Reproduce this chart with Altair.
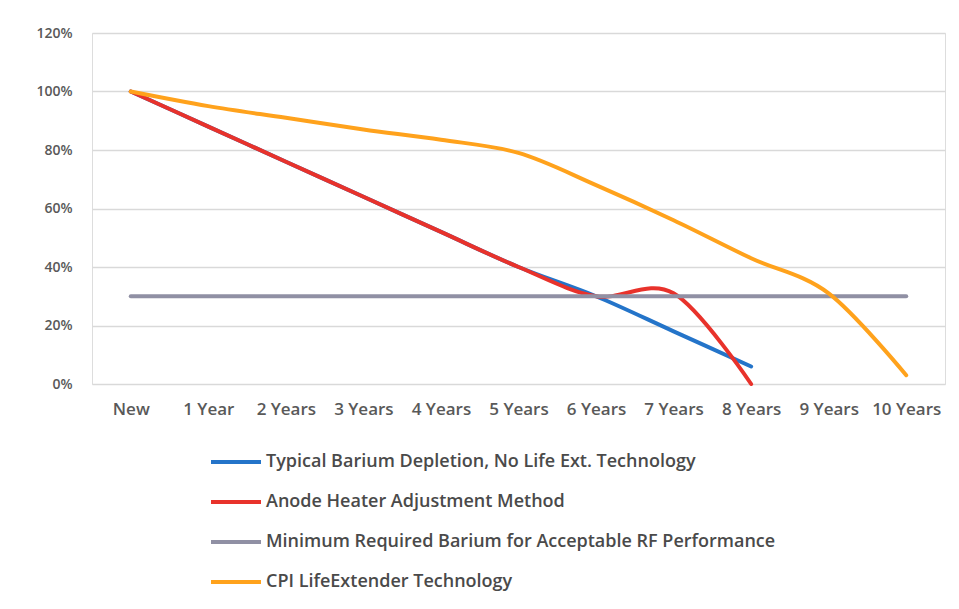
import altair as alt
import pandas as pd

categories = ["New", "1 Year", "2 Years", "3 Years", "4 Years", "5 Years",
              "6 Years", "7 Years", "8 Years", "9 Years", "10 Years"]

series_names = [
    "Typical Barium Depletion, No Life Ext. Technology",
    "Anode Heater Adjustment Method",
    "Minimum Required Barium for Acceptable RF Performance",
    "CPI LifeExtender Technology",
]
series_colors = ["#2474c9", "#e8322b", "#9090a4", "#ffa21c"]
series_widths = [4, 4, 1.6, 4]

typical = [1.00, 0.88, 0.76, 0.64, 0.52, 0.40, 0.30, 0.18, 0.06]
anode = [1.00, 0.88, 0.76, 0.64, 0.52, 0.40, 0.30, 0.31, 0.00]
minimum = [0.30] * 11
cpi = [1.00, 0.95, 0.91, 0.87, 0.835, 0.79, 0.68, 0.56, 0.43, 0.31, 0.03]

rows = []
for name, vals in zip(series_names, [typical, anode, minimum, cpi]):
    for i, v in enumerate(vals):
        rows.append({"cat": categories[i], "value": v, "series": name, "idx": i})
df = pd.DataFrame(rows)

FONT = "Open Sans"

legend_cfg = dict(title=None, orient="none", legendX=117, legendY=402,
                  direction="vertical", symbolType="stroke",
                  symbolSize=2500,
                  labelFontSize=18, labelFont=FONT,
                  labelFontWeight=600, labelColor="#4a4a4a",
                  labelOffset=3, rowPadding=4, labelLimit=700)

chart = alt.Chart(df).mark_line(interpolate="cardinal", strokeCap="round").encode(
    x=alt.X("cat:N", sort=categories,
            scale=alt.Scale(type="point", padding=0.5),
            axis=alt.Axis(title=None, labelAngle=0, ticks=False, domain=False,
                          labelFontSize=17, labelFont=FONT, labelFontWeight=600,
                          labelColor="#595959", labelPadding=17)),
    y=alt.Y("value:Q",
            scale=alt.Scale(domain=[0, 1.2], nice=False),
            axis=alt.Axis(title=None, values=[0, 0.2, 0.4, 0.6, 0.8, 1.0, 1.2],
                          format=".0%", ticks=False, domain=False,
                          gridColor="#d9d9d9", gridWidth=1.5,
                          labelFontSize=14, labelFont=FONT, labelFontWeight=600,
                          labelColor="#595959", labelPadding=20)),
    color=alt.Color("series:N", sort=series_names,
                    scale=alt.Scale(domain=series_names, range=series_colors),
                    legend=alt.Legend(**legend_cfg)),
    strokeWidth=alt.StrokeWidth("series:N", sort=series_names,
                                scale=alt.Scale(domain=series_names, range=series_widths),
                                legend=alt.Legend(**legend_cfg)),
    order=alt.Order("idx:Q"),
    detail="series:N",
).properties(
    width=853, height=351,
    autosize=alt.AutoSizeParams(type="none"),
    padding={"left": 84, "top": 25, "right": 6, "bottom": 217},
).configure_view(stroke=None).configure(background="white")

chart.save("out.html", embed_options={"renderer": "svg", "actions": False})
